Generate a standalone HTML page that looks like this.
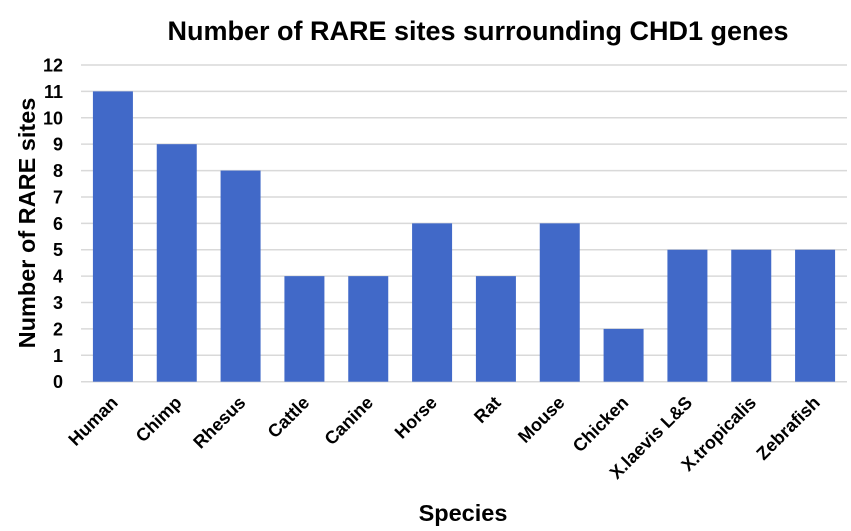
<!DOCTYPE html>
<html><head><meta charset="utf-8"><style>
body{margin:0;background:#fff;}
svg{display:block;font-family:"Liberation Sans",Arial,sans-serif;font-weight:bold;}
</style></head><body>
<svg id="c" width="851" height="531">
<text x="478" y="40" font-size="27" text-anchor="middle" fill="#000">Number of RARE sites surrounding CHD1 genes</text>
<text transform="translate(35,223) rotate(-90)" font-size="23.5" text-anchor="middle" fill="#000">Number of RARE sites</text>
<text x="463" y="521" font-size="23.5" text-anchor="middle" fill="#000">Species</text>
<g id="grid"></g><g id="bars"></g><g id="yl"></g><g id="xl"></g>
</svg>
<script>
const categories=["Human","Chimp","Rhesus","Cattle","Canine","Horse","Rat","Mouse","Chicken","X.laevis L&S","X.tropicalis","Zebrafish"];
const values=[11,9,8,4,4,6,4,6,2,5,5,5];
const yTicks=[0,1,2,3,4,5,6,7,8,9,10,11,12];
const NS="http://www.w3.org/2000/svg";
const x0=81,x1=847,y0=381.7,y1=65,ymax=12;
const step=(x1-x0)/categories.length,bw=40;
function y(v){return y0-(v/ymax)*(y0-y1);}
function xc(i){return x0+step*(i+0.5);}
function mk(t,a,p){const e=document.createElementNS(NS,t);for(const k in a)e.setAttribute(k,a[k]);document.getElementById(p).appendChild(e);return e;}
yTicks.forEach(t=>{
 const l=mk('line',{x1:x0,x2:x1,y1:y(t),y2:y(t),stroke:'#d9d9d9','stroke-width':1.5},'grid');
 
 
 const tx=mk('text',{x:63,y:y(t)+6.5,'font-size':18,'text-anchor':'end',fill:'#000'},'yl');
 tx.textContent=t;
 
 
});
categories.forEach((c,i)=>{
 const r=mk('rect',{x:xc(i)-bw/2,y:y(values[i]),width:bw,height:y0-y(values[i]),fill:'#4169c8'},'bars');
 
 
 const tx=mk('text',{transform:`translate(${xc(i)+6},${y0+22}) rotate(-45)`,'font-size':18,'text-anchor':'end',fill:'#000'},'xl');
 tx.textContent=c;
 
 
});
</script>
</body></html>
